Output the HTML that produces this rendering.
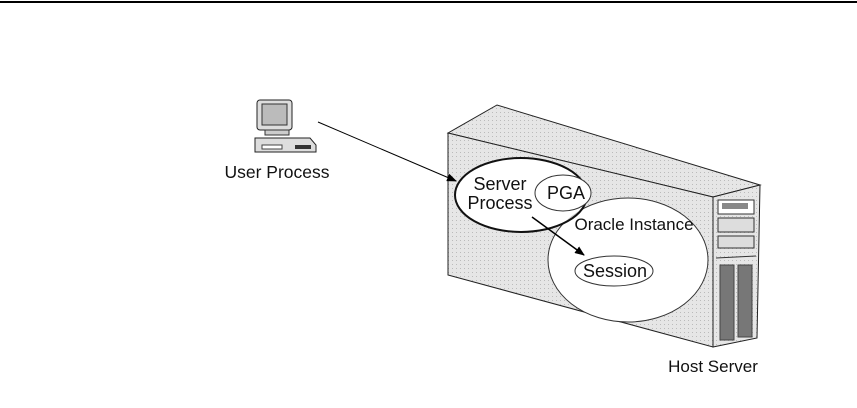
<!DOCTYPE html>
<html><head><style>body{margin:0;background:#fff}svg{display:block}text{font-family:"Liberation Sans",sans-serif;font-size:17px;fill:#111}</style></head><body>
<svg width="857" height="408" viewBox="0 0 857 408">
<defs>
<pattern id="dots" width="4" height="4" patternUnits="userSpaceOnUse"><rect width="4" height="4" fill="#e6e6e6"/><rect width="1" height="1" fill="#bbb"/></pattern>
<marker id="ah" markerWidth="10" markerHeight="8" refX="9" refY="4" orient="auto" markerUnits="userSpaceOnUse"><path d="M0,0L10,4L0,8z" fill="#000"/></marker>
<clipPath id="sp"><ellipse cx="521" cy="195" rx="66" ry="37"/></clipPath>
</defs>
<line x1="0" y1="2" x2="857" y2="2" stroke="#000" stroke-width="2"/>
<polygon points="448,133 497,105 760,185 713,197" fill="url(#dots)" stroke="#222"/>
<polygon points="448,133 713,197 713,347 448,275" fill="url(#dots)" stroke="#222"/>
<polygon points="713,197 760,185 757,338 713,347" fill="url(#dots)" stroke="#222"/>
<rect x="718" y="200" width="36" height="14" fill="#fff" stroke="#333"/>
<rect x="722" y="203" width="26" height="6" fill="#888"/>
<rect x="718" y="218" width="36" height="14" fill="#ddd" stroke="#333"/>
<rect x="718" y="236" width="36" height="12" fill="#ddd" stroke="#333"/>
<line x1="716" y1="258" x2="756" y2="256" stroke="#333"/>
<g stroke="#444"><rect x="720" y="265" width="14" height="75" fill="#777"/><rect x="738" y="265" width="14" height="72" fill="#777"/></g>
<ellipse cx="628" cy="260" rx="80" ry="62" fill="#fff" stroke="#333"/>
<ellipse cx="521" cy="195" rx="66" ry="37" fill="#fff"/>
<ellipse cx="628" cy="260" rx="80" ry="62" fill="#ccc" clip-path="url(#sp)"/>
<ellipse cx="521" cy="195" rx="66" ry="37" fill="none" stroke="#111" stroke-width="2"/>
<ellipse cx="563" cy="193" rx="28" ry="18" fill="#fff" stroke="#333"/>
<ellipse cx="614" cy="271" rx="39" ry="15" fill="#fff" stroke="#333"/>
<text x="500" y="190" text-anchor="middle" style="font-size:18px">Server</text>
<text x="500" y="209" text-anchor="middle" style="font-size:18px">Process</text>
<text x="566" y="199" text-anchor="middle" style="font-size:18px">PGA</text>
<text x="634" y="230" text-anchor="middle">Oracle Instance</text>
<text x="615" y="277" text-anchor="middle" style="font-size:18px">Session</text>
<text x="713" y="372" text-anchor="middle">Host Server</text>
<line x1="318" y1="122" x2="456" y2="181" stroke="#000" marker-end="url(#ah)"/>
<line x1="532" y1="217" x2="584" y2="255" stroke="#000" stroke-width="1.5" marker-end="url(#ah)"/>
<rect x="257" y="100" width="35" height="30" rx="3" fill="#ddd" stroke="#222"/>
<rect x="262" y="104" width="25" height="21" fill="#bbb" stroke="#333"/>
<rect x="265" y="130" width="24" height="5" fill="#ccc" stroke="#333"/>
<polygon points="255,138 310,138 316,145 316,152 255,152" fill="#ddd" stroke="#222"/>
<rect x="262" y="145" width="20" height="4" fill="#fff" stroke="#444"/>
<rect x="295" y="145" width="16" height="4" fill="#333"/>
<text x="277" y="178" text-anchor="middle" style="font-size:17.5px">User Process</text>
</svg>
</body></html>
